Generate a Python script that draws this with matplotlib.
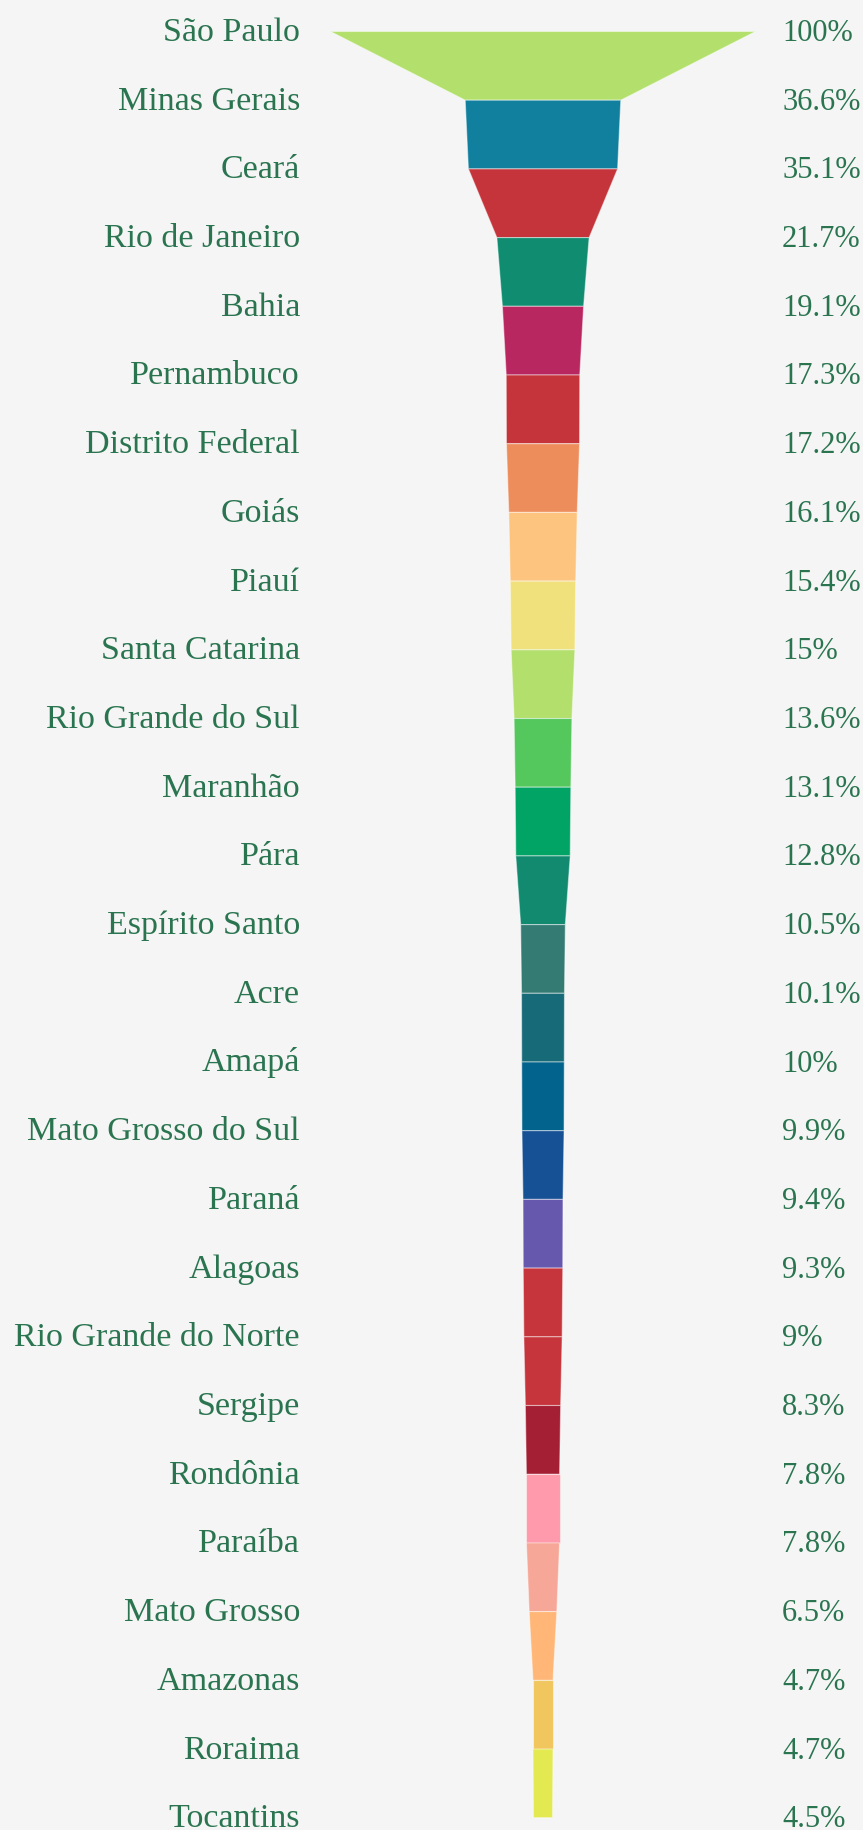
import matplotlib
matplotlib.use("Agg")
import matplotlib.pyplot as plt
from matplotlib.patches import Polygon

states = ["São Paulo", "Minas Gerais", "Ceará", "Rio de Janeiro", "Bahia", "Pernambuco",
          "Distrito Federal", "Goiás", "Piauí", "Santa Catarina", "Rio Grande do Sul",
          "Maranhão", "Pára", "Espírito Santo", "Acre", "Amapá", "Mato Grosso do Sul",
          "Paraná", "Alagoas", "Rio Grande do Norte", "Sergipe", "Rondônia", "Paraíba",
          "Mato Grosso", "Amazonas", "Roraima", "Tocantins"]
values = [100, 36.6, 35.1, 21.7, 19.1, 17.3, 17.2, 16.1, 15.4, 15, 13.6, 13.1, 12.8,
          10.5, 10.1, 10, 9.9, 9.4, 9.3, 9, 8.3, 7.8, 7.8, 6.5, 4.7, 4.7, 4.5]
colors = ["#b3e06c", "#11809e", "#c4343a", "#108d70", "#b92761", "#c4343a", "#ee8d5c",
          "#fdc47f", "#f1e17d", "#b3df6c", "#54c75d", "#02a466", "#118a6f", "#347b74",
          "#176a78", "#02638c", "#165196", "#6558ad", "#c5353b", "#c5353b", "#a41f34",
          "#fe9aab", "#f6a797", "#ffb676", "#f1c65e", "#e2e951"]

W, H, DPI = 863, 1830, 100
bg = "#f5f5f5"
txt = "#2a7550"

fig = plt.figure(figsize=(W / DPI, H / DPI), dpi=DPI, facecolor=bg)
ax = fig.add_axes([0, 0, 1, 1])
ax.set_facecolor(bg)

cx, px_per_pct = 543.0, 4.25
y0, step = 31.5, 68.7
ax.set_xlim(-cx / px_per_pct, (W - cx) / px_per_pct)
ax.set_ylim((H - y0) / step, -y0 / step)
ax.axis("off")

for i, c in enumerate(colors):
    a, b = values[i] / 2, values[i + 1] / 2
    poly = Polygon([(-a, i), (a, i), (b, i + 1), (-b, i + 1)], closed=True,
                   facecolor=c, edgecolor=(1, 1, 1, 0.45), linewidth=0.8)
    ax.add_patch(poly)

left_x = (300 - cx) / px_per_pct
right_x = (782 - cx) / px_per_pct
base_off = 9.5 / step
for i, (s, v) in enumerate(zip(states, values)):
    ax.text(left_x, i + base_off, s, ha="right", va="baseline", fontsize=24.5,
            family="Liberation Serif", color=txt)
    ax.text(right_x, i + base_off, f"{v:g}%", ha="left", va="baseline", fontsize=22,
            family="Liberation Serif", color=txt)

fig.savefig("out.png", dpi=DPI, facecolor=bg)
